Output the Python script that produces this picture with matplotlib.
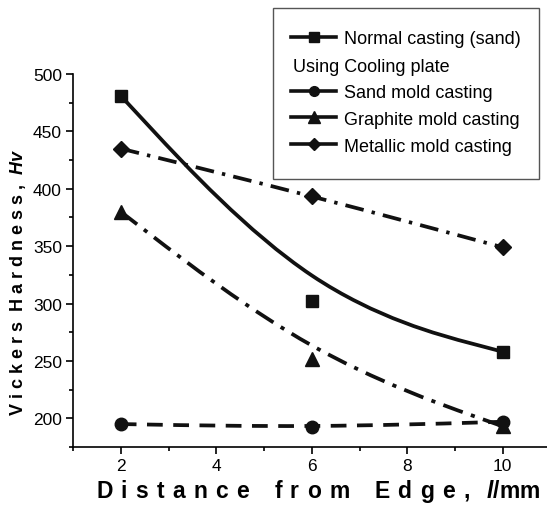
import matplotlib
matplotlib.use("Agg")
import numpy as np
import matplotlib.pyplot as plt
from matplotlib.path import Path
from matplotlib.patches import PathPatch, Rectangle
from matplotlib.lines import Line2D

plt.rcParams["font.family"] = ["Liberation Sans", "DejaVu Sans"]
plt.rcParams["mathtext.fontset"] = "custom"
plt.rcParams["mathtext.bfit"] = "Liberation Sans:italic:bold"
plt.rcParams["mathtext.it"] = "Liberation Sans:italic"

# data
distance = [2, 6, 10]
normal_sand = [481, 302, 258]
sand_mold = [195, 192, 197]
graphite_mold = [380, 252, 193]
metallic_mold = [435, 394, 349]

xticks = [2, 4, 6, 8, 10]
yticks = [200, 250, 300, 350, 400, 450, 500]

series = [
    ("Normal casting (sand)", normal_sand, "s", "-", 9),
    ("Sand mold casting", sand_mold, "o", (0, (4.2, 2.8)), 9),
    ("Graphite mold casting", graphite_mold, "^", (0, (5.5, 2.3, 1.1, 2.3)), 10),
    ("Metallic mold casting", metallic_mold, "D", (0, (5.0, 2.2, 0.9, 2.2)), 8),
]


def bspline_path(xs, ys):
    # clamped uniform cubic B-spline (like Origin's B-spline connect),
    # converted segment by segment to cubic Bezier pieces
    pts = [np.array(p, float) for p in zip(xs, ys)]
    ctrl = [pts[0]] * 2 + pts + [pts[-1]] * 2
    verts = [tuple(pts[0])]
    codes = [Path.MOVETO]
    for i in range(len(ctrl) - 3):
        a, b, c, d = ctrl[i:i + 4]
        verts += [tuple((4 * b + 2 * c) / 6), tuple((2 * b + 4 * c) / 6),
                  tuple((b + 4 * c + d) / 6)]
        codes += [Path.CURVE4] * 3
    return Path(verts, codes)


W, H = 547, 506
fig = plt.figure(figsize=(W / 100, H / 100), dpi=100)
ax = fig.add_axes([73 / W, 1 - 448 / H, 477.5 / W, (448 - 75) / H])

for label, vals, mk, ls, ms in series:
    ax.add_patch(PathPatch(bspline_path(distance, vals), fill=False, lw=2.7,
                           ls=ls, ec="#111111", capstyle="butt"))
    ax.plot(distance, vals, ls="none", marker=mk, ms=ms, color="#111111")

ax.set_xlim(1, 11)
ax.set_ylim(175, 500)
ax.set_xticks(xticks)
ax.set_yticks(yticks)
ax.set_xticks([1, 3, 5, 7, 9, 11], minor=True)
ax.set_yticks([175, 225, 275, 325, 375, 425, 475], minor=True)
ax.spines["top"].set_visible(False)
ax.spines["right"].set_visible(False)
for s in ("left", "bottom"):
    ax.spines[s].set_linewidth(1.2)
ax.tick_params(which="major", direction="out", length=5, width=1.2,
               labelsize=12.5, pad=3)
ax.tick_params(which="minor", direction="out", length=3, width=1.2)


def spaced(word, gap):
    return gap.join(word)


g = " \u200a"
xl = (spaced("Distance", g) + g * 3 + spaced("from", g) + g * 3
      + spaced("Edge,", g) + g * 2 + r"$\mathbfit{l}$/mm")
fig.text(318 / W, 1 - 492 / H, xl, ha="center", va="center",
         fontsize=16.5, fontweight="bold")
yl = (spaced("Vickers", " ") + "  " + spaced("Hardness,", " ") + "  "
      + r"$\mathbfit{Hv}$")
fig.text(18 / W, 1 - 283 / H, yl, ha="center", va="center", rotation=90,
         fontsize=13, fontweight="bold")

# legend box
fig.patches.append(Rectangle((273 / W, 1 - 180 / H), 266 / W, 171 / H,
                             transform=fig.transFigure, fill=False,
                             ec="#555555", lw=1.0))
handles = []
labels = []
for i, (label, vals, mk, ls, ms) in enumerate(series):
    handles.append(Line2D([], [], color="#111111", lw=2.6, marker=mk,
                          ms=ms - 2))
    labels.append(label)
    if i == 0:
        handles.append(Line2D([], [], color="none"))
        labels.append("Using Cooling plate")
leg = fig.legend(handles, labels, loc="upper left",
                 bbox_to_anchor=(291 / W, 1 - 31 / H), frameon=False,
                 fontsize=13, handlelength=2.5, handletextpad=0.45,
                 labelspacing=0.55, borderpad=0, borderaxespad=0)
leg.get_texts()[1].set_alpha(0)
fig.text(293 / W, 1 - 67 / H, "Using Cooling plate", ha="left", va="center",
         fontsize=13)

fig.savefig("out.png", dpi=100)
